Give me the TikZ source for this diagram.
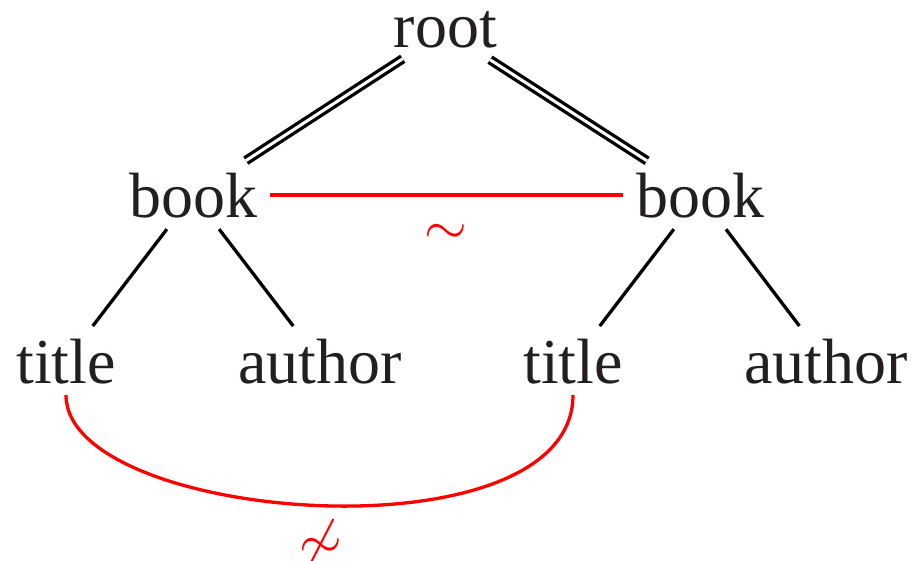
\documentclass[tikz,border=0pt]{standalone}
\usepackage{graphicx}
\usepackage{fontspec}
\setmainfont{Liberation Serif}
\usetikzlibrary{calc}
\definecolor{txtgray}{HTML}{231F20}
\definecolor{redline}{HTML}{FF0000}
\tikzset{
  lbl/.style={font=\fontsize{64}{70}\selectfont, text=txtgray, inner sep=0pt, outer sep=0pt,
              text height=44pt, text depth=0pt, anchor=base},
  dbl/.style={draw=black, line width=3.3pt, double=white, double distance=3pt, line cap=butt},
  edge1/.style={draw=black, line width=3.3pt, line cap=butt},
  rededge/.style={draw=redline, line width=3.3pt},
  rellbl/.style={text=redline, inner sep=0pt}
}
\begin{document}
\begin{tikzpicture}[x=1pt,y=-1pt]
\useasboundingbox (0,0) rectangle (916,560);
\node[lbl, text height=38pt, yshift=0pt] (root) at (445.5,47) {root};
\node[lbl] (bookL) at (193,217) {book};
\node[lbl] (bookR) at (700,217) {book};
\node[lbl] (titleL) at (66,383) {title};
\node[lbl] (authorL) at (320,383) {author};
\node[lbl] (titleR) at (573,383) {title};
\node[lbl] (authorR) at (826,383) {author};

\draw[dbl, shorten <=51pt, shorten >=63pt] ([yshift=-3pt]root.center) -- (bookL.center);
\draw[dbl, shorten <=53pt, shorten >=63pt] ([yshift=-3pt]root.center) -- (bookR.center);
\draw[edge1, shorten <=43pt, shorten >=44pt] (bookL.center) -- (titleL.center);
\draw[edge1, shorten <=43pt, shorten >=44pt] (bookL.center) -- (authorL.center);
\draw[edge1, shorten <=43pt, shorten >=44pt] (bookR.center) -- (titleR.center);
\draw[edge1, shorten <=43pt, shorten >=44pt] (bookR.center) -- (authorR.center);

\draw[rededge, shorten <=77pt, shorten >=77pt] (bookL.center) -- (bookR.center);
\node[rellbl] (sim) at (446,234) {\scalebox{5.5}{$\sim$}};

\draw[rededge] ($(titleL.base)+(0,12)$) .. controls +(0,128) and +(0,167) .. ($(titleR.base)+(0,12)$);
\node[rellbl] (nsim) at (321,545) {\scalebox{5.5}{$\not\sim$}};
\end{tikzpicture}
\end{document}
